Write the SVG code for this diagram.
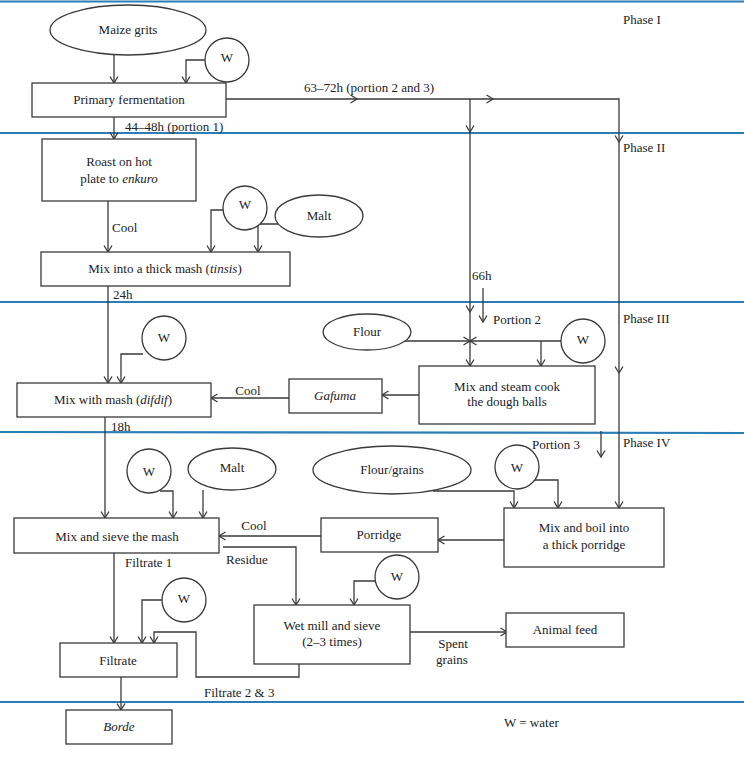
<svg xmlns="http://www.w3.org/2000/svg" width="744" height="757" viewBox="0 0 744 757">
<defs>
<style>
.b{fill:#fff;stroke:#3a3a3a;stroke-width:1.3}
.c{fill:none;stroke:#3a3a3a;stroke-width:1.3}
.p{stroke:#2a7db5;stroke-width:2.2}
text{font-family:"Liberation Serif","Times New Roman",serif;font-size:13px;fill:#222}
.m{text-anchor:middle}
</style>
<marker id="a" markerUnits="userSpaceOnUse" markerWidth="12" markerHeight="12" refX="8" refY="5" orient="auto">
<path d="M1.5,1 L8,5 L1.5,9" fill="none" stroke="#3a3a3a" stroke-width="1.3"/>
</marker>
</defs>
<rect width="744" height="757" fill="#fff"/>
<g id="phases">
<line class="p" x1="0" y1="1.5" x2="744" y2="1.5" stroke-width="3"/>
<line class="p" x1="0" y1="133" x2="744" y2="133"/>
<line class="p" x1="0" y1="302" x2="744" y2="302"/>
<line class="p" x1="0" y1="432" x2="744" y2="433"/>
<line class="p" x1="0" y1="702" x2="744" y2="702"/>
<text x="623" y="24">Phase I</text>
<text x="623" y="152">Phase II</text>
<text x="623" y="323">Phase III</text>
<text x="623" y="447">Phase IV</text>
<text x="504" y="727">W = water</text>
</g>
<g id="connectors" class="c" marker-end="url(#a)">
<path d="M114,55 V83"/>
<path d="M205,60 H186 V83"/>
<path d="M226,99 H357"/>
<path d="M357,99 H493"/>
<path d="M493,99 H619 V142"/>
<path d="M619,142 V373"/>
<path d="M619,373 V508"/>
<path d="M470,99 V132"/>
<path d="M470,132 V312"/>
<path d="M470,312 V366"/>
<path d="M400,341 H470"/>
<path d="M561,341 H470"/>
<path d="M541,341 V366"/>
<path d="M114,117 V139"/>
<path d="M108,201 V252"/>
<path d="M224,210 H211 V252"/>
<path d="M278,224 H258 V252"/>
<path d="M108,286 V383"/>
<path d="M143,354 H121 V383"/>
<path d="M289,398 H211"/>
<path d="M419,395 H382"/>
<path d="M483,288 V322"/>
<path d="M105,417 V518"/>
<path d="M160,491 H173 V518"/>
<path d="M203,490 V518"/>
<path d="M321,536 H219"/>
<path d="M504,540 H438"/>
<path d="M433,491 H514 V508"/>
<path d="M535,480 H558 V508"/>
<path d="M601,431 V457"/>
<path d="M223,547 H296 V605"/>
<path d="M114,553 V643"/>
<path d="M162,600 H142 V643"/>
<path d="M299,664 V677 H196 V632 H154 V643"/>
<path d="M375,581 H354 V605"/>
<path d="M410,632 H507"/>
<path d="M121,677 V710"/>
</g>
<g id="edge-labels">
<text x="304" y="92">63–72h (portion 2 and 3)</text>
<text x="125" y="131">44–48h (portion 1)</text>
<text x="112" y="232">Cool</text>
<text x="113" y="299">24h</text>
<text x="472" y="280">66h</text>
<text x="493" y="324">Portion 2</text>
<text x="248" y="395" class="m">Cool</text>
<text x="111" y="431">18h</text>
<text x="532" y="449">Portion 3</text>
<text x="254" y="530" class="m">Cool</text>
<text x="226" y="564">Residue</text>
<text x="125" y="567">Filtrate 1</text>
<text x="453" y="648" class="m">Spent</text>
<text x="452" y="664" class="m">grains</text>
<text x="204" y="697">Filtrate 2 &amp; 3</text>
</g>
<g id="maize"><ellipse class="b" cx="128" cy="30" rx="78" ry="25"/><text class="m" x="128" y="34">Maize grits</text></g>
<g id="w1"><circle class="b" cx="227" cy="60" r="22"/><text class="m" x="227" y="62">W</text></g>
<g id="primary"><rect class="b" x="32" y="83" width="194" height="34"/><text class="m" x="129" y="104">Primary fermentation</text></g>
<g id="roast"><rect class="b" x="42" y="139" width="154" height="62"/><text class="m" x="119" y="166">Roast on hot</text><text class="m" x="119" y="183">plate to <tspan font-style="italic">enkuro</tspan></text></g>
<g id="w2"><circle class="b" cx="245" cy="208" r="22"/><text class="m" x="245" y="209">W</text></g>
<g id="malt1"><ellipse class="b" cx="319" cy="216" rx="44" ry="21"/><text class="m" x="319" y="220">Malt</text></g>
<g id="tinsis"><rect class="b" x="41" y="252" width="249" height="34"/><text class="m" x="165" y="273">Mix into a thick mash (<tspan font-style="italic">tinsis</tspan>)</text></g>
<g id="w3"><circle class="b" cx="164" cy="338" r="22"/><text class="m" x="164" y="342">W</text></g>
<g id="flour"><ellipse class="b" cx="367" cy="332" rx="44" ry="18"/><text class="m" x="367" y="336">Flour</text></g>
<g id="w4"><circle class="b" cx="583" cy="341" r="22"/><text class="m" x="583" y="344">W</text></g>
<g id="difdif"><rect class="b" x="17" y="383" width="194" height="34"/><text class="m" x="113" y="404">Mix with mash (<tspan font-style="italic">difdif</tspan>)</text></g>
<g id="gafuma"><rect class="b" x="289" y="379" width="93" height="34"/><text class="m" x="335" y="400" font-style="italic">Gafuma</text></g>
<g id="steam"><rect class="b" x="419" y="366" width="176" height="58"/><text class="m" x="507" y="391">Mix and steam cook</text><text class="m" x="507" y="406">the dough balls</text></g>
<g id="w5"><circle class="b" cx="149" cy="471" r="22"/><text class="m" x="149" y="476">W</text></g>
<g id="malt2"><ellipse class="b" cx="232" cy="469" rx="44" ry="21"/><text class="m" x="232" y="472">Malt</text></g>
<g id="flourgrains"><ellipse class="b" cx="392" cy="470" rx="79" ry="24"/><text class="m" x="392" y="474">Flour/grains</text></g>
<g id="w6"><circle class="b" cx="517" cy="467" r="22"/><text class="m" x="517" y="472">W</text></g>
<g id="sieve"><rect class="b" x="14" y="518" width="205" height="35"/><text class="m" x="117" y="541">Mix and sieve the mash</text></g>
<g id="porridge"><rect class="b" x="321" y="518" width="117" height="34"/><text class="m" x="379" y="539">Porridge</text></g>
<g id="boil"><rect class="b" x="504" y="508" width="160" height="59"/><text class="m" x="584" y="532">Mix and boil into</text><text class="m" x="584" y="549">a thick porridge</text></g>
<g id="w7"><circle class="b" cx="397" cy="577" r="22"/><text class="m" x="397" y="581">W</text></g>
<g id="w8"><circle class="b" cx="184" cy="600" r="22"/><text class="m" x="184" y="603">W</text></g>
<g id="wetmill"><rect class="b" x="254" y="605" width="156" height="59"/><text class="m" x="332" y="630">Wet mill and sieve</text><text class="m" x="332" y="646">(2–3 times)</text></g>
<g id="animal"><rect class="b" x="506" y="613" width="118" height="34"/><text class="m" x="565" y="634">Animal feed</text></g>
<g id="filtrate"><rect class="b" x="60" y="643" width="117" height="34"/><text class="m" x="118" y="665">Filtrate</text></g>
<g id="borde"><rect class="b" x="66" y="710" width="106" height="34"/><text class="m" x="119" y="731" font-style="italic">Borde</text></g>
</svg>
